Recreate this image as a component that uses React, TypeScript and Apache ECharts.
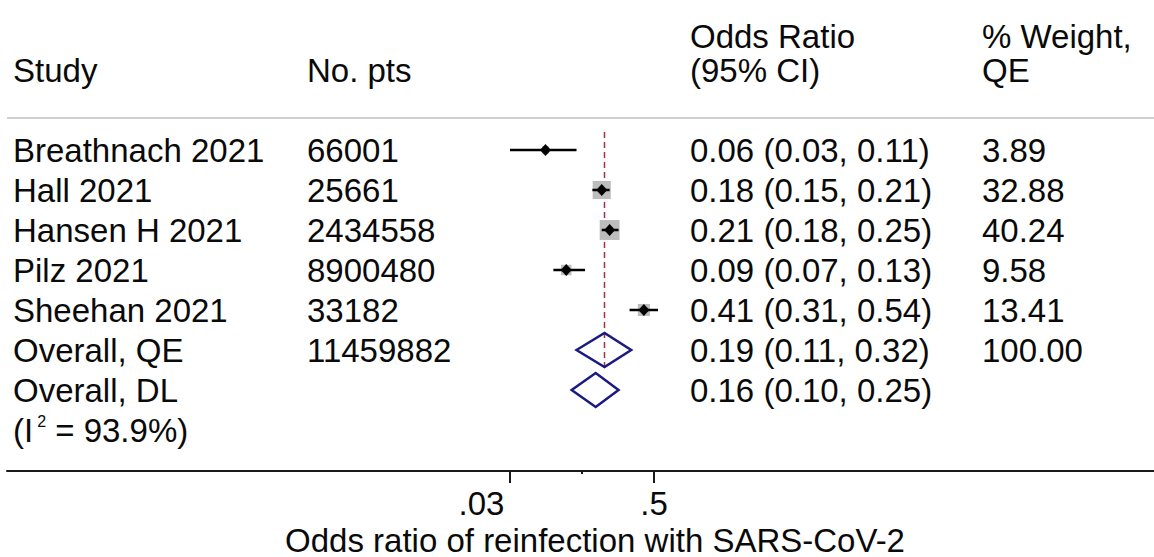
import React, { useEffect, useRef } from "react";
import * as echarts from "echarts";

// ---- data ----
const studies = [
  "Breathnach 2021",
  "Hall 2021",
  "Hansen H 2021",
  "Pilz 2021",
  "Sheehan 2021",
  "Overall, QE",
  "Overall, DL",
];
const nPts = ["66001", "25661", "2434558", "8900480", "33182", "11459882", ""];
const oddsRatio = [0.06, 0.18, 0.21, 0.09, 0.41, 0.19, 0.16];
const ciLow = [0.03, 0.15, 0.18, 0.07, 0.31, 0.11, 0.1];
const ciHigh = [0.11, 0.21, 0.25, 0.13, 0.54, 0.32, 0.25];
const weightQE: (number | null)[] = [3.89, 32.88, 40.24, 9.58, 13.41, 100.0, null];
const isOverall = [false, false, false, false, false, true, true];
const heterogeneityI2 = 93.9;
const tickValues = [0.03, 0.5];
const tickLabels = [".03", ".5"];
const minorTickValues = [0.1225];
const headerStudy = "Study";
const headerN = "No. pts";
const headerOR = ["Odds Ratio", "(95% CI)"];
const headerW = ["% Weight,", "QE"];
const xTitle = "Odds ratio of reinfection with SARS-CoV-2";

// ---- styles ----
const FONT = "'Liberation Sans', Arial, Helvetica, sans-serif";
const FS = 33;
const TXT = "#0a0a0a";
const NAVY = "#1a1a82";
const ln = Math.log;
const X_MIN = -13.331;
const X_MAX = 9.072;
const COL_STUDY = 13;
const COL_N = 307;
const COL_OR = 690;
const COL_W = 982;

const fmt2 = (v: number) => v.toFixed(2);

export default function App() {
  const ref = useRef<HTMLDivElement>(null);

  useEffect(() => {
    if (!ref.current) return;
    const chart = echarts.init(ref.current, undefined, { renderer: "svg" });

    const forestData = studies.map((_, i) => [
      i,
      ln(oddsRatio[i]),
      ln(ciLow[i]),
      ln(ciHigh[i]),
      weightQE[i] ?? 0,
      isOverall[i] ? 1 : 0,
    ]);

    const textStyle = (text: string, x: number, y: number) => ({
      type: "text",
      x,
      y,
      style: {
        text,
        fontSize: FS,
        fontFamily: FONT,
        fill: TXT,
        align: "left",
        verticalAlign: "middle",
        lineHeight: 33,
      },
    });

    const option: any = {
      animation: false,
      backgroundColor: "#ffffff",
      grid: { left: 7, right: 0, top: 110, bottom: 86, containLabel: false },
      xAxis: [
        {
          type: "value",
          min: X_MIN,
          max: X_MAX,
          position: "bottom",
          axisLine: { show: true, onZero: false, lineStyle: { color: "#1a1a1a", width: 2 } },
          axisTick: {
            show: true,
            customValues: tickValues.map(ln),
            length: 12,
            lineStyle: { color: "#1a1a1a", width: 2 },
          },
          axisLabel: {
            show: true,
            customValues: tickValues.map(ln),
            margin: 16,
            fontSize: FS,
            lineHeight: 33,
            fontFamily: FONT,
            color: TXT,
            formatter: (v: number) => {
              const idx = tickValues.findIndex((t) => Math.abs(ln(t) - v) < 1e-6);
              const lab = idx >= 0 ? tickLabels[idx] : "";
              return idx === 0 ? `{l|${lab}}` : `{c|${lab}}`;
            },
            rich: {
              l: { fontSize: FS, lineHeight: 33, fontFamily: FONT, color: TXT, padding: [0, 57, 0, 0] },
              c: { fontSize: FS, lineHeight: 33, fontFamily: FONT, color: TXT },
            },
          },
          splitLine: { show: false },
        },
        {
          type: "value",
          min: X_MIN,
          max: X_MAX,
          position: "bottom",
          axisLine: { show: false, onZero: false },
          axisTick: {
            show: true,
            customValues: minorTickValues.map(ln),
            length: 3,
            lineStyle: { color: "#1a1a1a", width: 2 },
          },
          axisLabel: { show: false },
          splitLine: { show: false },
        },
      ],
      yAxis: { type: "value", min: -1, max: 8.025, inverse: true, show: false },
      graphic: [
        { type: "line", shape: { x1: 7, y1: 118, x2: 1154, y2: 118 }, style: { stroke: "#d0d0d0", lineWidth: 2 } },
        textStyle(headerStudy, COL_STUDY, 70),
        textStyle(headerN, COL_N, 70),
        textStyle(headerOR[0], COL_OR, 36),
        textStyle(headerOR[1], COL_OR, 70),
        textStyle(headerW[0], COL_W, 36),
        textStyle(headerW[1], COL_W, 70),
        {
          type: "text",
          x: 595,
          y: 540,
          style: {
            text: xTitle,
            fontSize: FS,
            lineHeight: 30,
            fontFamily: FONT,
            fill: TXT,
            align: "center",
            verticalAlign: "middle",
          },
        },
      ],
      series: [
        {
          type: "custom",
          name: "table",
          coordinateSystem: "cartesian2d",
          xAxisIndex: 0,
          yAxisIndex: 0,
          silent: true,
          clip: false,
          data: studies.map((_, i) => [0, i]),
          renderItem: (params: any, api: any) => {
            const i = params.dataIndex;
            const y = api.coord([0, i])[1];
            const w = weightQE[i];
            const children: any[] = [
              textStyle(studies[i], COL_STUDY, y),
              textStyle(nPts[i], COL_N, y),
              textStyle(`${fmt2(oddsRatio[i])} (${fmt2(ciLow[i])}, ${fmt2(ciHigh[i])})`, COL_OR, y),
            ];
            if (w !== null) children.push(textStyle(fmt2(w), COL_W, y));
            if (i === studies.length - 1) {
              const y2 = api.coord([0, i + 1])[1];
              children.push({
                type: "text",
                x: COL_STUDY,
                y: y2,
                style: {
                  text: `{a|(I}{s|2}{a| = ${heterogeneityI2.toFixed(1)}%)}`,
                  fontSize: FS,
                  fontFamily: FONT,
                  fill: TXT,
                  align: "left",
                  verticalAlign: "middle",
                  rich: {
                    a: { fontSize: FS, fontFamily: FONT, fill: TXT, lineHeight: 33 },
                    s: {
                      fontSize: 16,
                      fontFamily: FONT,
                      fill: TXT,
                      lineHeight: 16,
                      verticalAlign: "top",
                      padding: [0, 0, 0, 4],
                    },
                  },
                },
              });
            }
            return { type: "group", children };
          },
        },
        {
          type: "custom",
          name: "refline",
          coordinateSystem: "cartesian2d",
          silent: true,
          clip: false,
          data: [[ln(oddsRatio[5])]],
          renderItem: (_params: any, api: any) => {
            const v = api.value(0);
            const p1 = api.coord([v, -0.45]);
            const p2 = api.coord([v, 5.45]);
            return {
              type: "line",
              shape: { x1: p1[0], y1: p1[1], x2: p2[0], y2: p2[1] },
              style: { stroke: "#a0324a", lineWidth: 1.5, lineDash: [6, 4] },
            };
          },
        },
        {
          type: "custom",
          name: "forest",
          coordinateSystem: "cartesian2d",
          silent: true,
          clip: false,
          data: forestData,
          renderItem: (_params: any, api: any) => {
            const row = api.value(0);
            const c = api.coord([api.value(1), row]);
            const lo = api.coord([api.value(2), row]);
            const hi = api.coord([api.value(3), row]);
            const w = api.value(4);
            const overall = api.value(5) === 1;
            if (overall) {
              const h = 17;
              return {
                type: "polygon",
                shape: {
                  points: [
                    [lo[0], c[1]],
                    [c[0], c[1] - h],
                    [hi[0], c[1]],
                    [c[0], c[1] + h],
                  ],
                },
                style: { fill: "none", stroke: NAVY, lineWidth: 2.5 },
              };
            }
            const size = 1.5 + 2.9 * Math.sqrt(w);
            return {
              type: "group",
              children: [
                {
                  type: "rect",
                  shape: { x: c[0] - size / 2, y: c[1] - size / 2, width: size, height: size },
                  style: { fill: "#bdbdbd" },
                },
                {
                  type: "line",
                  shape: { x1: lo[0], y1: c[1], x2: hi[0], y2: c[1] },
                  style: { stroke: "#000", lineWidth: 2.5 },
                },
                {
                  type: "polygon",
                  shape: {
                    points: [
                      [c[0] - 5.5, c[1]],
                      [c[0], c[1] - 6],
                      [c[0] + 5.5, c[1]],
                      [c[0], c[1] + 6],
                    ],
                  },
                  style: { fill: "#000" },
                },
              ],
            };
          },
        },
      ],
    };

    chart.setOption(option);
    return () => chart.dispose();
  }, []);

  return (
    <div
      ref={ref}
      style={{ position: "absolute", left: 0, top: 0, width: 1154, height: 557, background: "#fff" }}
    />
  );
}
